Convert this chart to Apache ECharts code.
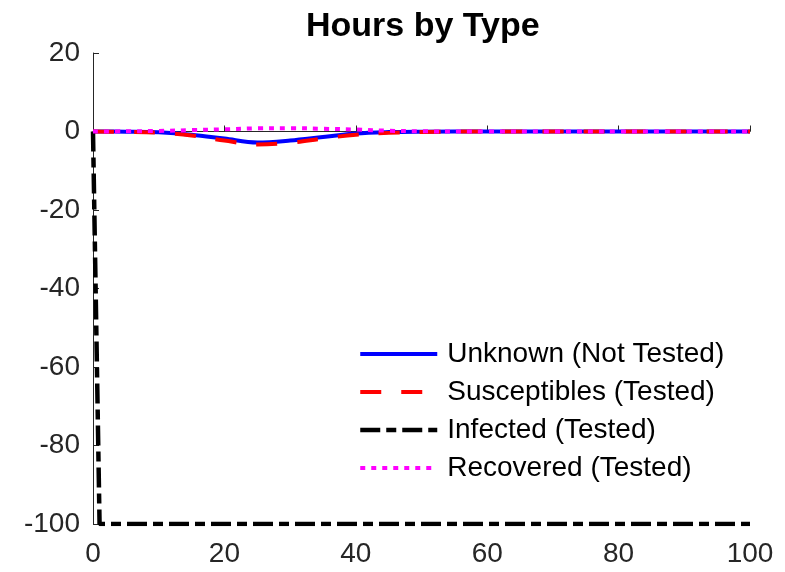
<!DOCTYPE html>
<html>
<head>
<meta charset="utf-8">
<script src="https://cdn.jsdelivr.net/npm/echarts@6/dist/echarts.min.js"></script>
<style>
  html, body { margin: 0; padding: 0; background: #fff; }
  #chart { width: 785px; height: 572px; }
</style>
</head>
<body>
<div id="chart"></div>
<script>
// x positions (time) shared by the smooth curves
const xs = [0, 5, 10, 15, 20, 25, 30, 35, 40, 45, 50, 60, 70, 80, 90, 100];
const unknown = [0, -0.05, -0.2, -0.8, -1.8, -2.8, -2.3, -1.4, -0.5, -0.15, -0.05, 0, 0, 0, 0, 0];
const susceptibles = [0, -0.1, -0.3, -1.0, -2.3, -3.3, -2.9, -1.8, -0.8, -0.35, -0.1, 0, 0, 0, 0, 0];
const recovered = [0, 0.05, 0.15, 0.35, 0.55, 0.8, 0.85, 0.7, 0.5, 0.2, 0.05, 0, 0, 0, 0, 0];
// infected drops straight to -100
const infectedX = [0, 1, 100];
const infected = [0, -100, -100];

const names = ['Unknown (Not Tested)', 'Susceptibles (Tested)', 'Infected (Tested)', 'Recovered (Tested)'];
const xTicks = [0, 20, 40, 60, 80, 100];
const yTicks = [-100, -80, -60, -40, -20, 0, 20];

function pairs(x, y) {
    return x.map((v, i) => [v, y[i]]);
}

const font = '"Liberation Sans", Arial, Helvetica, sans-serif';
const axisColor = '#262626';

// line styles, reused by the legend so the icons look the same
const styles = [
    { color: '#0000ff', width: 4, type: 'solid' },
    { color: '#ff0000', width: 4, type: [21, 20], cap: 'butt' },
    { color: '#000000', width: 4.5, type: [20, 6, 10, 6], cap: 'butt' },
    { color: '#ff00ff', width: 4, type: [5, 6], cap: 'butt' }
];

var myChart = echarts.init(document.getElementById('chart'));
myChart.setOption({
    animation: false,
    title: {
        text: 'Hours by Type',
        left: 306,
        top: 10,
        padding: 0,
        textStyle: { fontFamily: font, fontSize: 34, fontWeight: 'bold', color: '#000' }
    },
    grid: { left: 93, right: 35, top: 53, bottom: 48, containLabel: false },
    legend: {
        orient: 'vertical',
        left: 358,
        top: 340,
        padding: 0,
        itemWidth: 77,
        itemHeight: 28,
        itemGap: 10,
        itemStyle: { opacity: 0 },
        textStyle: { fontFamily: font, fontSize: 28, color: '#000', lineHeight: 28, padding: [0, 0, 0, 5] },
        data: names.map((n, i) => ({ name: n, lineStyle: styles[i] }))
    },
    xAxis: {
        type: 'value',
        min: xTicks[0],
        max: xTicks[xTicks.length - 1],
        interval: 20,
        splitLine: { show: false },
        axisLine: { lineStyle: { color: axisColor, width: 1 } },
        axisTick: { inside: true, length: 6, lineStyle: { color: axisColor } },
        axisLabel: { fontFamily: font, fontSize: 28, color: axisColor, margin: 16 }
    },
    yAxis: {
        type: 'value',
        min: yTicks[0],
        max: yTicks[yTicks.length - 1],
        interval: 20,
        splitLine: { show: false },
        axisLine: { show: true, lineStyle: { color: axisColor, width: 1 } },
        axisTick: { show: true, inside: true, length: 6, lineStyle: { color: axisColor } },
        axisLabel: { fontFamily: font, fontSize: 28, color: axisColor, margin: 13 }
    },
    series: [
        {
            name: names[0], type: 'line', symbol: 'none', smooth: 0.35,
            data: pairs(xs, unknown),
            lineStyle: styles[0], itemStyle: { color: styles[0].color }
        },
        {
            name: names[1], type: 'line', symbol: 'none', smooth: 0.35,
            data: pairs(xs, susceptibles),
            lineStyle: styles[1], itemStyle: { color: styles[1].color }
        },
        {
            name: names[2], type: 'line', symbol: 'none',
            data: pairs(infectedX, infected),
            lineStyle: styles[2], itemStyle: { color: styles[2].color }
        },
        {
            name: names[3], type: 'line', symbol: 'none', smooth: 0.35,
            data: pairs(xs, recovered),
            lineStyle: styles[3], itemStyle: { color: styles[3].color }
        }
    ]
});
</script>
</body>
</html>
